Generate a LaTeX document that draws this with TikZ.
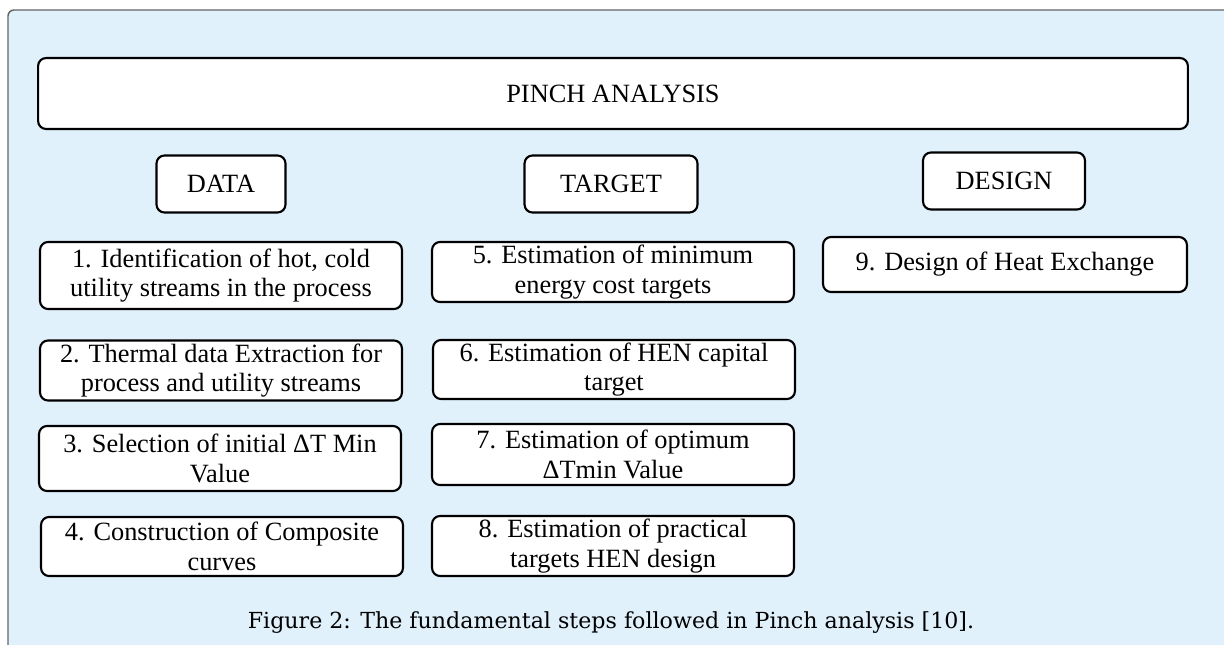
\documentclass[tikz,border=0pt]{standalone}
\usepackage{fontspec}
\setmainfont{Liberation Serif}
\newfontfamily\capfont{DejaVu Serif}
\definecolor{panelblue}{RGB}{224,241,252}
\definecolor{panelgray}{RGB}{100,100,100}
\begin{document}
\begin{tikzpicture}[x=0.02cm, y=-0.02cm,
    stepbox/.style={draw, fill=white, line width=1.2pt, rounded corners=0.16cm,
      align=center, inner sep=0pt, minimum width=7.24cm, minimum height=1.2cm,
      font=\fontsize{15}{16.8}\selectfont},
    headbox/.style={stepbox, minimum height=1.14cm}]
    \useasboundingbox (0,0) rectangle (1224,645);
    \clip (0,0) rectangle (1224,645);
    \draw[panelgray, fill=panelblue, line width=0.8pt, rounded corners=0.12cm]
      (8,700) -- (8,10) -- (1260,10) -- (1260,700) -- cycle;
    \node[stepbox, minimum width=23cm, minimum height=1.42cm] (pinch) at (613,93.5) {PINCH ANALYSIS};
    \node[headbox, minimum width=2.58cm] (data) at (221,184) {DATA};
    \node[headbox, minimum width=3.46cm] (target) at (611,184) {TARGET};
    \node[headbox, minimum width=3.24cm] (design) at (1004,181) {DESIGN};
    \node[stepbox, minimum height=1.34cm] (s1) at (221,275.5) {1. Identification of hot, cold\\utility streams in the process};
    \node[stepbox] (s2) at (221,370.5) {2. Thermal data Extraction for\\process and utility streams};
    \node[stepbox, minimum height=1.3cm] (s3) at (220,458.5) {3. Selection of initial ΔT Min\\Value};
    \node[stepbox, minimum height=1.18cm] (s4) at (222,546.5) {4. Construction of Composite\\curves};
    \node[stepbox] (s5) at (613,272) {5. Estimation of minimum\\energy cost targets};
    \node[stepbox, minimum height=1.18cm] (s6) at (614,369.5) {6. Estimation of HEN capital\\target};
    \node[stepbox, minimum height=1.22cm] (s7) at (613,454.5) {7. Estimation of optimum\\ΔTmin Value};
    \node[stepbox] (s8) at (613,546) {8. Estimation of practical\\targets HEN design};
    \node[stepbox, minimum width=7.28cm, minimum height=1.1cm] (s9) at (1005,264.5) {9. Design of Heat Exchange};
    \node[anchor=base, inner sep=0pt, font=\capfont\fontsize{12.6}{15}\selectfont] (caption) at (611,628)
      {Figure 2: The fundamental steps followed in Pinch analysis [10].};
\end{tikzpicture}
\end{document}
